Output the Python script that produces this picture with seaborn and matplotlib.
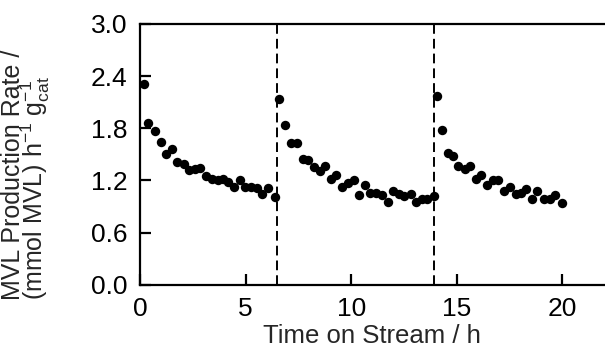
import pandas as pd
import matplotlib
matplotlib.use("Agg")
import matplotlib.pyplot as plt
import seaborn as sns

# time on stream (h) and MVL production rate
time_run1 = [0.19, 0.39, 0.71, 0.98, 1.23, 1.53, 1.74, 2.06, 2.32, 2.61, 2.85, 3.13,
             3.40, 3.68, 3.95, 4.19, 4.46, 4.74, 4.98, 5.27, 5.54, 5.80, 6.06, 6.37]
rate_run1 = [2.31, 1.86, 1.77, 1.64, 1.50, 1.56, 1.41, 1.39, 1.32, 1.33, 1.34, 1.25,
             1.22, 1.20, 1.22, 1.18, 1.12, 1.20, 1.12, 1.12, 1.11, 1.04, 1.11, 1.01]

time_run2 = [6.59, 6.85, 7.15, 7.43, 7.70, 7.96, 8.22, 8.51, 8.78, 9.05, 9.30, 9.57,
             9.83, 10.12, 10.39, 10.67, 10.91, 11.19, 11.46, 11.73, 11.98, 12.25,
             12.52, 12.81, 13.08, 13.36, 13.60, 13.91]
rate_run2 = [2.13, 1.84, 1.63, 1.63, 1.45, 1.43, 1.35, 1.31, 1.36, 1.21, 1.26, 1.12,
             1.17, 1.20, 1.03, 1.15, 1.05, 1.05, 1.03, 0.95, 1.08, 1.04,
             1.02, 1.04, 0.95, 0.99, 0.99, 1.02]

time_run3 = [14.06, 14.30, 14.57, 14.82, 15.06, 15.37, 15.64, 15.91, 16.16, 16.43,
             16.70, 16.95, 17.24, 17.51, 17.78, 18.04, 18.30, 18.57, 18.82, 19.12,
             19.39, 19.64, 19.96]
rate_run3 = [2.17, 1.78, 1.52, 1.48, 1.36, 1.33, 1.36, 1.21, 1.26, 1.15,
             1.20, 1.20, 1.08, 1.12, 1.04, 1.06, 1.10, 0.98, 1.08, 0.98,
             0.98, 1.03, 0.94]

# catalyst regeneration times (dashed lines)
regen_times = [6.48, 13.91]

x_ticks = [0, 5, 10, 15, 20]
y_ticks = [0.0, 0.6, 1.2, 1.8, 2.4, 3.0]

df = pd.DataFrame({
    "time": time_run1 + time_run2 + time_run3,
    "rate": rate_run1 + rate_run2 + rate_run3,
})

sns.set_style("ticks")
plt.rcParams["font.family"] = ["Liberation Sans", "DejaVu Sans"]
plt.rcParams["mathtext.fontset"] = "custom"
plt.rcParams["mathtext.rm"] = "Liberation Sans"
plt.rcParams["mathtext.it"] = "Liberation Sans"
plt.rcParams["axes.axisbelow"] = False

fig = plt.figure(figsize=(6.05, 3.51), dpi=100)
ax = fig.add_axes([0.2314, 0.189, 0.768, 0.743])

sns.scatterplot(data=df, x="time", y="rate", color="black", s=46,
                edgecolor="black", linewidth=0, ax=ax, zorder=3)

for t in regen_times:
    ax.axvline(t, color="black", lw=1.4, linestyle=(0, (5, 2.6)), zorder=2)

ax.set_xlim(0, 22)
ax.set_ylim(0, 3.0)
ax.set_xticks(x_ticks)
ax.set_yticks(y_ticks)
ax.set_yticklabels([f"{v:.1f}" for v in y_ticks])

ax.tick_params(axis="both", which="major", direction="in", length=8, width=1.6,
               labelsize=19, pad=9, color="black", labelcolor="black",
               bottom=True, left=True, top=False, right=False)
for side in ["left", "bottom", "top"]:
    ax.spines[side].set_linewidth(1.6)
    ax.spines[side].set_color("black")
ax.spines["right"].set_visible(False)

ax.set_xlabel("Time on Stream / h", fontsize=18.5, labelpad=2)
ax.set_ylabel("MVL Production Rate /\n"
              "(mmol MVL) h$^{-1}$ $\\mathrm{g}_{\\mathrm{cat}}^{-1}$",
              fontsize=18, linespacing=0.74, multialignment="left")
ax.yaxis.set_label_coords(-0.19, 0.42)

fig.savefig("out.png", dpi=100, facecolor="white")
plt.close(fig)
